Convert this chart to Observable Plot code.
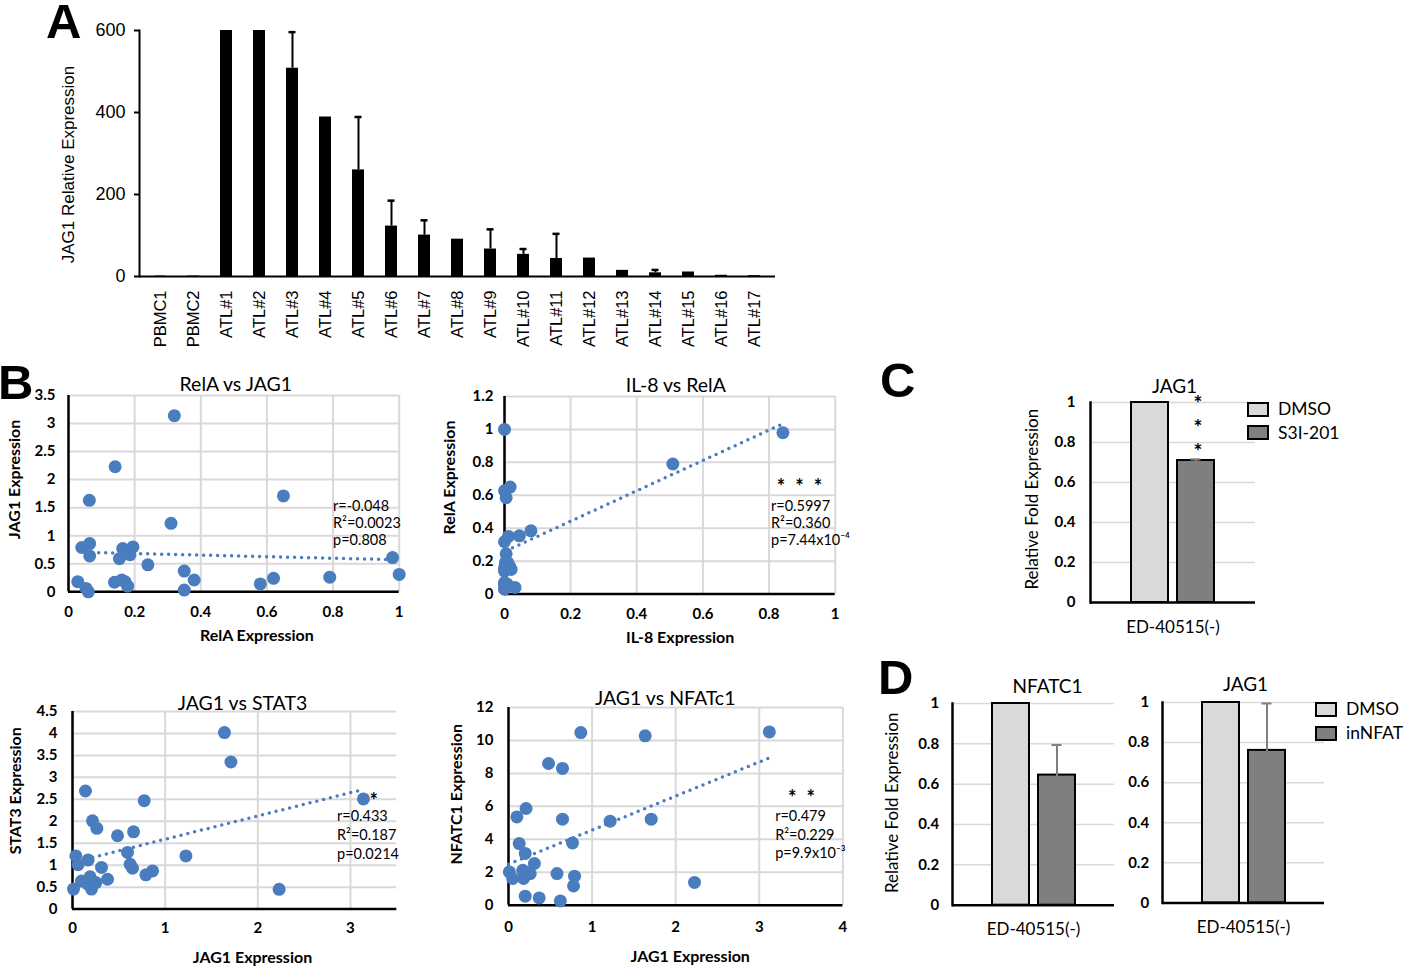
<!DOCTYPE html>
<html><head><meta charset="utf-8">
<script src="https://cdn.jsdelivr.net/npm/d3@7"></script>
<script src="https://cdn.jsdelivr.net/npm/@observablehq/plot@0.6"></script>
<style>
body{margin:0;background:#fff;}
#root{position:relative;width:1414px;height:966px;overflow:hidden;background:#fff;}
.letter{position:absolute;font-family:"Liberation Sans",Arial,sans-serif;font-weight:bold;font-size:49px;line-height:1;color:#000;}
.lgbox{position:absolute;box-sizing:border-box;border:2px solid #000;}
.lgtxt{position:absolute;font-family:Lato,sans-serif;font-size:17.5px;line-height:20px;color:#000;white-space:nowrap;}
</style></head><body><div id="root"></div>
<script>
// ---------------- DATA ----------------
// Panel A
const samplesA = ["PBMC1","PBMC2","ATL#1","ATL#2","ATL#3","ATL#4","ATL#5","ATL#6","ATL#7","ATL#8","ATL#9","ATL#10","ATL#11","ATL#12","ATL#13","ATL#14","ATL#15","ATL#16","ATL#17"];
const jag1RelExpr = [1,1,600,600,508,389,260,123,101,91,67,54,44,45,15,9,11,3,2];
const jag1ErrTop  = [null,null,null,null,596,null,389,185,137,null,115,67,104,null,null,16,null,null,null];
const ticksA = [0,200,400,600];

// Panel B1: RelA (x) vs JAG1 (y)
const b1RelA = [0.32,0.141,0.063,0.65,0.31,0.04,0.064,0.064,0.164,0.195,0.154,0.186,0.176,0.24,0.028,0.053,0.06,0.139,0.161,0.171,0.179,0.35,0.35,0.38,0.58,0.62,0.79,0.98,1.0];
const b1JAG1 = [3.14,2.23,1.63,1.71,1.22,0.79,0.86,0.64,0.77,0.80,0.59,0.66,0.72,0.48,0.18,0.06,0.0,0.17,0.21,0.18,0.10,0.37,0.03,0.21,0.14,0.24,0.26,0.61,0.31];
const b1TrendX = [0.07,0.97], b1TrendY = [0.70,0.575];
const b1Stats = ["r=-0.048","R²=0.0023","p=0.808"];

// Panel B2: IL-8 (x) vs RelA (y)
const b2IL8  = [0.0,0.509,0.842,0.0,0.017,0.005,0.0,0.012,0.045,0.08,0.005,0.003,0.015,0.02,0.0,0.0,0.003,0.032,0.0,0.0,0.01,0.0,0.008];
const b2RelA = [1.0,0.79,0.98,0.627,0.65,0.585,0.318,0.35,0.354,0.384,0.245,0.192,0.17,0.15,0.14,0.07,0.045,0.04,0.03,0.16,0.19,0.055,0.06];
const b2TrendX = [0.005,0.839], b2TrendY = [0.263,1.032];
const b2Stats = ["r=0.5997","R²=0.360","p=7.44x10⁻⁴"];
const b2Sig = "*\u2002*\u2002*";

// Panel B3: JAG1 (x) vs STAT3 (y)
const b3JAG1  = [1.64,1.71,0.14,0.774,3.14,0.216,0.263,0.486,0.659,0.594,1.224,0.036,0.06,0.169,0.313,0.622,0.648,0.792,0.864,0.378,0.011,0.097,0.19,0.252,0.205,0.16,0.2,2.23];
const b3STAT3 = [4.02,3.35,2.69,2.47,2.51,2.01,1.84,1.67,1.76,1.29,1.21,1.21,1.01,1.12,0.95,1.02,0.93,0.78,0.87,0.68,0.455,0.64,0.735,0.605,0.455,0.58,0.55,0.45];
const b3TrendX = [0.072,3.13], b3TrendY = [1.10,2.72];
const b3Stats = ["r=0.433","R²=0.187","p=0.0214"];
const b3Sig = "*";

// Panel B4: JAG1 (x) vs NFATC1 (y)
const b4JAG1   = [0.865,1.635,3.12,0.479,0.646,0.21,0.1,0.646,1.216,1.707,0.128,0.766,0.2,0.31,0.01,0.05,0.17,0.18,0.26,0.58,0.79,0.778,2.225,0.2,0.367,0.62,0.22];
const b4NFATC1 = [10.48,10.28,10.52,8.60,8.30,5.87,5.36,5.22,5.10,5.22,3.74,3.78,3.14,2.53,2.02,1.62,2.12,1.62,1.92,1.92,1.76,1.17,1.38,0.55,0.44,0.26,2.0];
const b4TrendX = [0.0,3.12], b4TrendY = [2.49,8.94];
const b4Stats = ["r=0.479","R²=0.229","p=9.9x10⁻³"];
const b4Sig = "*\u2002*";

// Panel C
const cellLine = "ED-40515(-)";
const treatmentsC = ["DMSO","S3I-201"];
const jag1C = [1, 0.71];
const jag1CErr = [0, 0.006];
const sigC = ["*","*","*"];

// Panel D
const treatmentsD = ["DMSO","inNFAT"];
const nfatc1D = [1, 0.645];
const nfatc1DErr = [0, 0.149];
const jag1D = [1, 0.761];
const jag1DErr = [0, 0.234];

const ticks01 = [0,0.2,0.4,0.6,0.8,1];

// ---------------- STYLE ----------------
const BLUE = "#4a7dbe";
const GRID = "#d9d9d9";
const LIGHT = "#d9d9d9";
const DARK = "#7f7f7f";
const fmt = d3.format("~g");
const root = document.getElementById("root");

function place(el, left, top) {
  el.style.position = "absolute";
  el.style.left = left + "px";
  el.style.top = top + "px";
  root.appendChild(el);
}
function letter(ch, left, top) {
  const d = document.createElement("div");
  d.className = "letter"; d.textContent = ch;
  d.style.left = left + "px"; d.style.top = top + "px";
  root.appendChild(d);
}
function legend(items, colors, boxLeft, boxTops, boxW, boxH, textLeft, textCenters) {
  items.forEach((it, i) => {
    const b = document.createElement("div");
    b.className = "lgbox";
    Object.assign(b.style, {left: boxLeft + "px", top: boxTops[i] + "px", width: boxW + "px", height: boxH + "px", background: colors[i]});
    root.appendChild(b);
    const t = document.createElement("div");
    t.className = "lgtxt"; t.textContent = it;
    Object.assign(t.style, {left: textLeft + "px", top: (textCenters[i] - 10.5) + "px"});
    root.appendChild(t);
  });
}

// ---------------- PANEL A ----------------
{
  const data = samplesA.map((s, i) => ({s, v: jag1RelExpr[i], e: jag1ErrTop[i]}));
  const errs = data.filter(d => d.e != null);
  const ml = 139, mt = 30, fw = 636, fh = 246;
  const svg = Plot.plot({
    width: ml + fw + 20, height: mt + fh + 80,
    marginLeft: ml, marginRight: 20, marginTop: mt, marginBottom: 80,
    style: {fontFamily: "'Liberation Sans', Arial, sans-serif", fontSize: "16.5px", color: "#000", background: "transparent", overflow: "visible"},
    x: {domain: samplesA, paddingInner: 0.64, paddingOuter: 0.32},
    y: {domain: [0, 600]},
    marks: [
      Plot.barY(data, {x: "s", y: "v", fill: "#000"}),
      Plot.ruleX(errs, {x: "s", y1: "v", y2: "e", stroke: "#000", strokeWidth: 2}),
      Plot.tickY(errs, {x: "s", y: "e", stroke: "#000", strokeWidth: 2.5, insetLeft: 2.5, insetRight: 2.5}),
      Plot.axisY(ticksA, {tickSize: 5, tickPadding: 9, fontSize: 18, tickFormat: fmt, label: null, strokeWidth: 2}),
      Plot.axisX({tickRotate: -90, tickSize: 0, tickPadding: 14, fontSize: 16.5, label: null}),
      Plot.ruleY([0], {stroke: "#000", strokeWidth: 2}),
      Plot.frame({anchor: "left", stroke: "#000", strokeWidth: 2}),
      Plot.text(["JAG1 Relative Expression"], {text: d => d, frameAnchor: "left", textAnchor: "middle", lineAnchor: "middle", rotate: -90, dx: -71, dy: 11, fontSize: 17})
    ]
  });
  place(svg, 0, 0);
}

// ---------------- PANEL B ----------------
function scatter(cfg) {
  const {l, r, t, b} = cfg.frame;
  const ml = 75, mr = 30, mt = 35, mb = 65;
  const pts = cfg.xs.map((x, i) => ({x, y: cfg.ys[i]}));
  const trend = cfg.tx.map((x, i) => ({x, y: cfg.ty[i]}));
  const svg = Plot.plot({
    width: (r - l) + ml + mr, height: (b - t) + mt + mb,
    marginLeft: ml, marginRight: mr, marginTop: mt, marginBottom: mb,
    style: {fontFamily: "Lato, sans-serif", fontSize: "15px", color: "#000", background: "transparent", overflow: "visible"},
    x: {domain: cfg.xDomain},
    y: {domain: cfg.yDomain},
    marks: [
      Plot.gridX(cfg.xTicks, {stroke: GRID, strokeOpacity: 1, strokeWidth: 2}),
      Plot.gridY(cfg.yTicks, {stroke: GRID, strokeOpacity: 1, strokeWidth: 2}),
      Plot.axisX(cfg.xTicks, {tickSize: 0, tickPadding: cfg.xPad, tickFormat: fmt, fontWeight: "bold", fontSize: 15, label: null}),
      Plot.axisY(cfg.yTicks, {tickSize: 0, tickPadding: cfg.yPad, tickFormat: fmt, fontWeight: "bold", fontSize: 15, label: null}),
      Plot.ruleX([cfg.xDomain[0]], {stroke: "#000", strokeWidth: 2.5}),
      Plot.ruleY([cfg.yDomain[0]], {stroke: "#000", strokeWidth: 2.5}),
      Plot.dot(pts, {x: "x", y: "y", r: 6.5, fill: BLUE}),
      Plot.line(trend, {x: "x", y: "y", stroke: BLUE, strokeWidth: 3.5, strokeDasharray: "0 7", strokeLinecap: "round"}),
      Plot.text([cfg.title], {text: d => d, frameAnchor: "top", textAnchor: "middle", lineAnchor: "middle", dx: cfg.titleD[0], dy: cfg.titleD[1], fontSize: 19.5}),
      Plot.text([cfg.xTitle], {text: d => d, frameAnchor: "bottom", textAnchor: "middle", lineAnchor: "middle", dx: cfg.xTitleD[0], dy: cfg.xTitleD[1], fontSize: 16, fontWeight: "bold"}),
      Plot.text([cfg.yTitle], {text: d => d, frameAnchor: "left", textAnchor: "middle", lineAnchor: "middle", rotate: -90, dx: cfg.yTitleD[0], dy: cfg.yTitleD[1], fontSize: 16, fontWeight: "bold"}),
      Plot.text([cfg.stats.join("\n")], {text: d => d, x: () => cfg.statsAt[0], y: () => cfg.statsAt[1], textAnchor: "start", lineAnchor: "middle", lineHeight: cfg.statsLH, fontSize: 14.5}),
      ...(cfg.sig ? [Plot.text([cfg.sig], {text: d => d, x: () => cfg.sigAt[0], y: () => cfg.sigAt[1], dy: 5, fontSize: 20, fontWeight: "bold"})] : [])
    ]
  });
  place(svg, l - ml, t - mt);
}

scatter({
  frame: {l: 68.3, r: 399, t: 394.7, b: 591},
  xs: b1RelA, ys: b1JAG1, tx: b1TrendX, ty: b1TrendY,
  xDomain: [0, 1], yDomain: [0, 3.5],
  xTicks: [0,0.2,0.4,0.6,0.8,1], yTicks: [0,0.5,1,1.5,2,2.5,3,3.5],
  xPad: 15, yPad: 13,
  title: "RelA vs JAG1", titleD: [2, -10.7],
  xTitle: "RelA Expression", xTitleD: [23, 44],
  yTitle: "JAG1 Expression", yTitleD: [-53.3, -14.2],
  stats: b1Stats, statsAt: [0.80, 1.235], statsLH: 1.2
});
scatter({
  frame: {l: 504.3, r: 835, t: 395.7, b: 593.3},
  xs: b2IL8, ys: b2RelA, tx: b2TrendX, ty: b2TrendY,
  xDomain: [0, 1], yDomain: [0, 1.2],
  xTicks: [0,0.2,0.4,0.6,0.8,1], yTicks: [0,0.2,0.4,0.6,0.8,1,1.2],
  xPad: 14.5, yPad: 11,
  title: "IL-8 vs RelA", titleD: [6, -10.7],
  xTitle: "IL-8 Expression", xTitleD: [10.3, 43.4],
  yTitle: "RelA Expression", yTitleD: [-54.3, -17.8],
  stats: b2Stats, statsAt: [0.806, 0.435], statsLH: 1.2,
  sig: b2Sig, sigAt: [0.892, 0.675]
});
scatter({
  frame: {l: 71.7, r: 396, t: 710.7, b: 908.3},
  xs: b3JAG1, ys: b3STAT3, tx: b3TrendX, ty: b3TrendY,
  xDomain: [0, 3.5], yDomain: [0, 4.5],
  xTicks: [0,1,2,3], yTicks: [0,0.5,1,1.5,2,2.5,3,3.5,4,4.5],
  xPad: 13.5, yPad: 15,
  title: "JAG1 vs STAT3", titleD: [7.8, -7.4],
  xTitle: "JAG1 Expression", xTitleD: [17.8, 48.4],
  yTitle: "STAT3 Expression", yTitleD: [-56.7, -19.5],
  stats: b3Stats, statsAt: [2.855, 1.707], statsLH: 1.29,
  sig: b3Sig, sigAt: [3.25, 2.56]
});
scatter({
  frame: {l: 508.3, r: 842.7, t: 707.3, b: 905},
  xs: b4JAG1, ys: b4NFATC1, tx: b4TrendX, ty: b4TrendY,
  xDomain: [0, 4], yDomain: [0, 12],
  xTicks: [0,1,2,3,4], yTicks: [0,2,4,6,8,10,12],
  xPad: 16, yPad: 15,
  title: "JAG1 vs NFATc1", titleD: [-10.5, -9],
  xTitle: "JAG1 Expression", xTitleD: [14.5, 51.7],
  yTitle: "NFATC1 Expression", yTitleD: [-51.6, -12],
  stats: b4Stats, statsAt: [3.19, 4.35], statsLH: 1.29,
  sig: b4Sig, sigAt: [3.505, 6.8]
});

// ---------------- PANELS C & D ----------------
function barPanel(cfg) {
  const {l, r, t, b} = cfg.frame;
  const ml = 80, mr = 10, mt = 35, mb = 40;
  const rows = cfg.treatments.map((tr, i) => ({g: cellLine, t: tr, v: cfg.values[i], e: cfg.errors[i]}));
  const errRows = rows.filter(d => d.e > 0);
  const marks = [
    Plot.gridY(ticks01, {stroke: GRID, strokeOpacity: 1, strokeWidth: 1.5}),
    Plot.axisY(ticks01, {tickSize: 0, tickPadding: cfg.yPad, tickFormat: fmt, fontWeight: "bold", fontSize: 15, label: null}),
    Plot.axisFx({anchor: "bottom", tickSize: 0, tickPadding: 18, fontSize: 17, label: null}),
    Plot.barY(rows, {fx: "g", x: "t", y: "v", fill: "t", stroke: "#000", strokeWidth: 2}),
    Plot.ruleX(errRows, {fx: "g", x: "t", y1: d => d.v - d.e, y2: d => d.v + d.e, stroke: DARK, strokeWidth: 2}),
    Plot.tickY(errRows, {fx: "g", x: "t", y: d => d.v - d.e, stroke: DARK, strokeWidth: 2, insetLeft: 13.5, insetRight: 13.5}),
    Plot.tickY(errRows, {fx: "g", x: "t", y: d => d.v + d.e, stroke: DARK, strokeWidth: 2, insetLeft: 13.5, insetRight: 13.5}),
    Plot.ruleY([0], {stroke: "#000", strokeWidth: 2.5}),
    Plot.frame({anchor: "left", stroke: "#000", strokeWidth: 2.5}),
    Plot.text([cfg.title], {text: d => d, frameAnchor: "top", textAnchor: "middle", lineAnchor: "middle", dx: cfg.titleD[0], dy: cfg.titleD[1], fontSize: 19})
  ];
  if (cfg.yTitle) marks.push(Plot.text([cfg.yTitle], {text: d => d, frameAnchor: "left", textAnchor: "middle", lineAnchor: "middle", rotate: -90, dx: cfg.yTitleD[0], dy: cfg.yTitleD[1], fontSize: 17}));
  if (cfg.stars) marks.push(Plot.text(cfg.stars.map((s, i) => ({s, t: cfg.starAt.x, y: cfg.starAt.y[i]})), {text: "s", x: "t", y: "y", dy: 6, dx: 2, fontSize: 21, fontWeight: "bold"}));
  const svg = Plot.plot({
    width: (r - l) + ml + mr, height: (b - t) + mt + mb,
    marginLeft: ml, marginRight: mr, marginTop: mt, marginBottom: mb,
    style: {fontFamily: "Lato, sans-serif", fontSize: "15px", color: "#000", background: "transparent", overflow: "visible"},
    fx: {domain: [cellLine], padding: 0},
    x: {domain: cfg.treatments, paddingInner: 0.2, paddingOuter: 0.86, axis: null},
    y: {domain: [0, 1]},
    color: {domain: cfg.treatments, range: [LIGHT, DARK]},
    marks
  });
  place(svg, l - ml, t - mt);
}

barPanel({
  frame: {l: 1090, r: 1255, t: 402.3, b: 602.3},
  treatments: treatmentsC, values: jag1C, errors: jag1CErr,
  yPad: 15, title: "JAG1", titleD: [1.5, -16],
  yTitle: "Relative Fold Expression", yTitleD: [-58.3, -3.3],
  stars: sigC, starAt: {x: "S3I-201", y: [1.02, 0.90, 0.78]}
});
barPanel({
  frame: {l: 951.7, r: 1114.3, t: 703.3, b: 905},
  treatments: treatmentsD, values: nfatc1D, errors: nfatc1DErr,
  yPad: 13.4, title: "NFATC1", titleD: [14, -16.3],
  yTitle: "Relative Fold Expression", yTitleD: [-60, -1.5]
});
barPanel({
  frame: {l: 1161.7, r: 1324.3, t: 702.3, b: 902.7},
  treatments: treatmentsD, values: jag1D, errors: jag1DErr,
  yPad: 13.4, title: "JAG1", titleD: [2, -17.3]
});

legend(treatmentsC, [LIGHT, DARK], 1246.5, [402.3, 425], 22.5, 14.5, 1278, [409.3, 433.3]);
legend(treatmentsD, [LIGHT, DARK], 1315, [701.7, 725.7], 22, 15.5, 1346, [709.3, 733.3]);

// ---------------- PANEL LETTERS ----------------
letter("A", 46, -3.5);
letter("B", -2, 357.6);
letter("C", 880, 355.6);
letter("D", 878, 652.6);
</script></body></html>
